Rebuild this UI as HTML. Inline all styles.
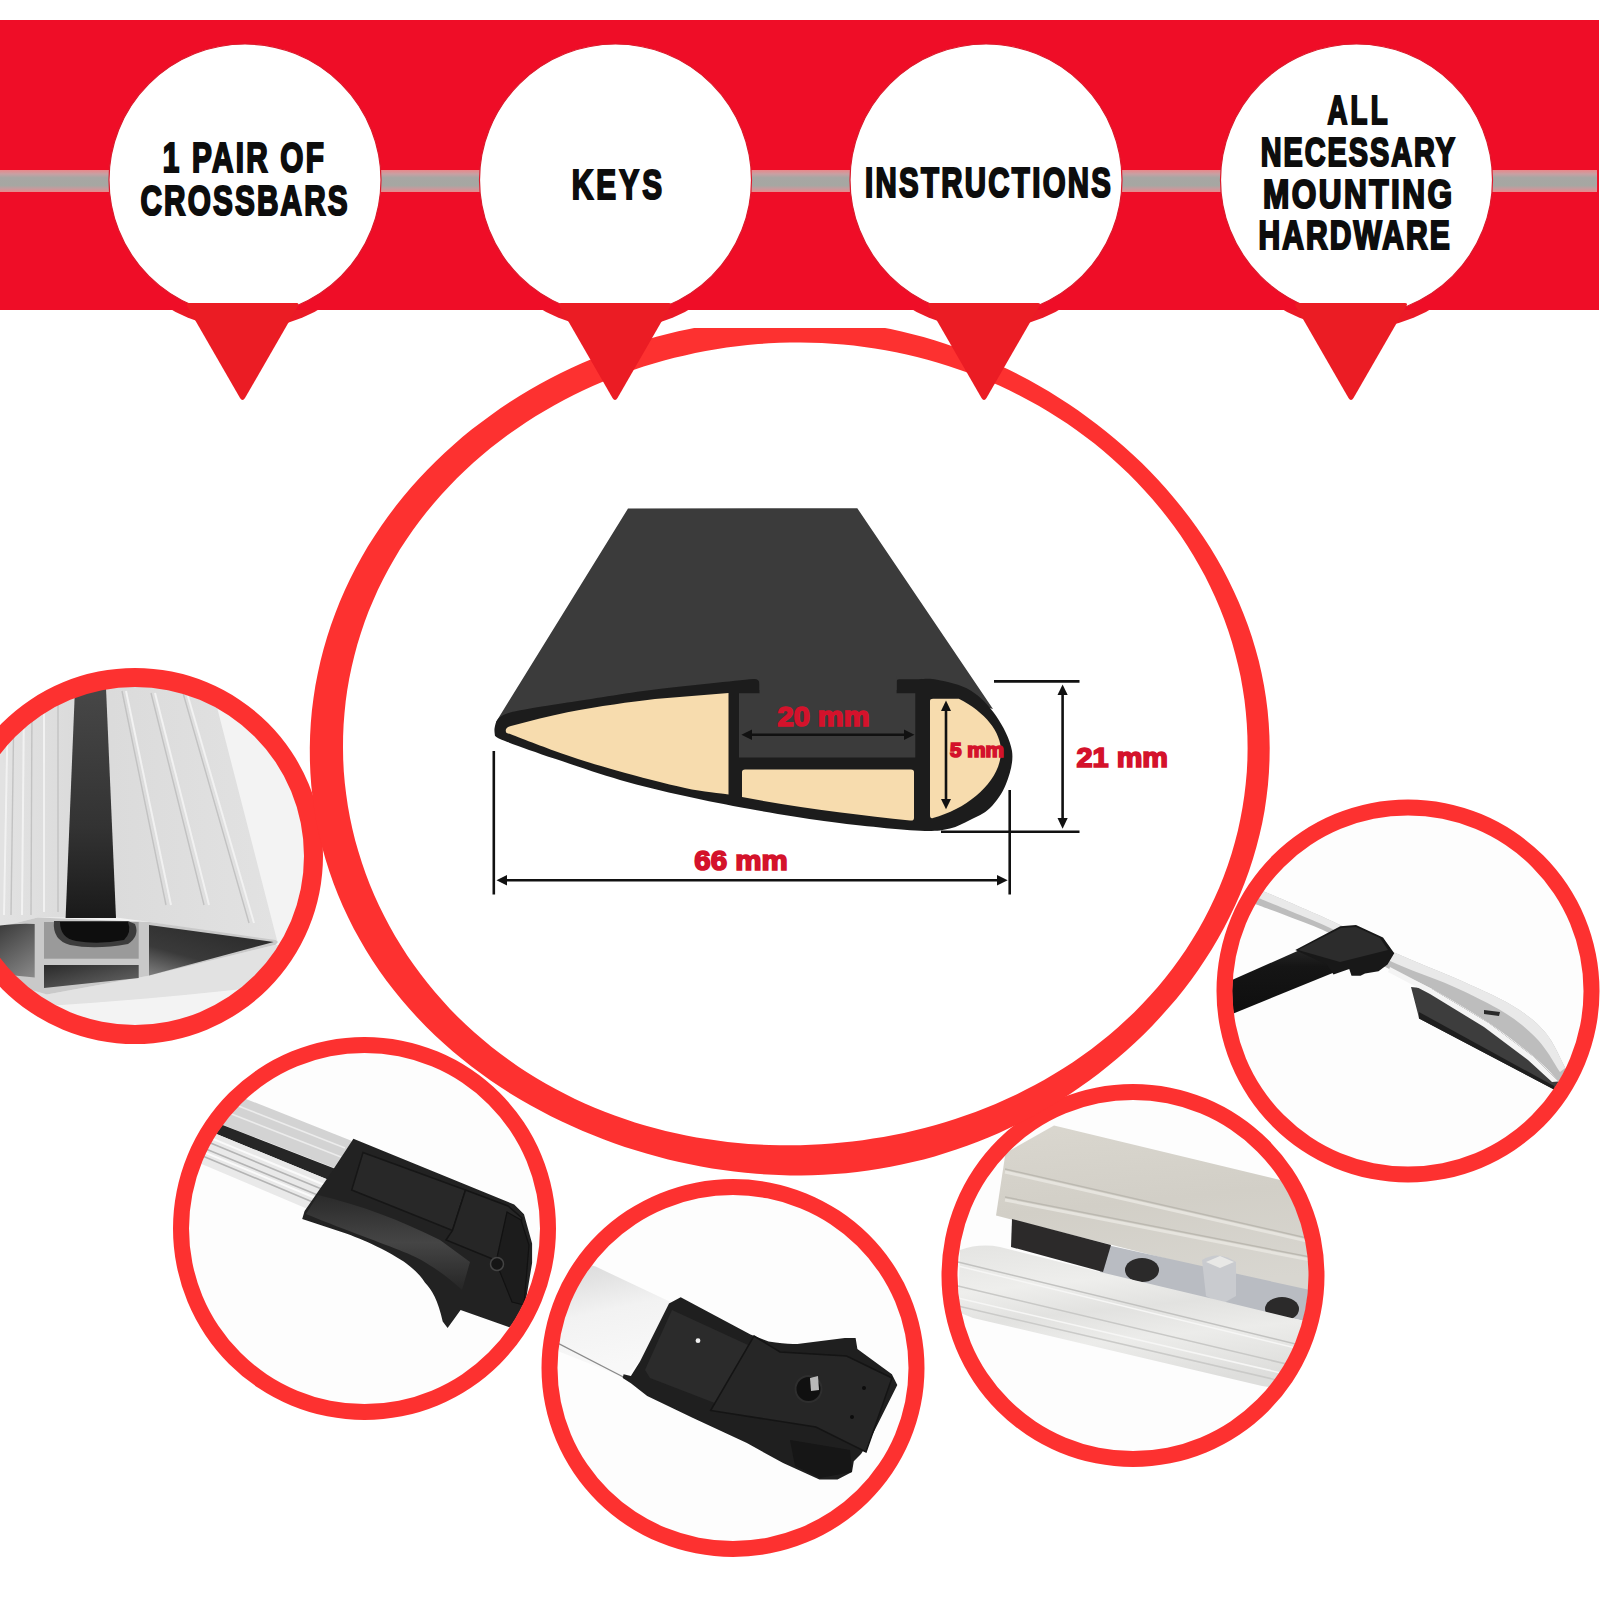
<!DOCTYPE html>
<html><head><meta charset="utf-8"><title>Crossbars</title>
<style>
html,body{margin:0;padding:0;background:#fff;}
body{width:1600px;height:1600px;overflow:hidden;position:relative;font-family:"Liberation Sans",sans-serif;}
svg{display:block;position:absolute;left:0;top:0;}
</style></head>
<body>
<svg width="1600" height="1600" viewBox="0 0 1600 1600">
<defs>
  <linearGradient id="stripe" x1="0" y1="0" x2="0" y2="1">
    <stop offset="0" stop-color="#e9878a"/>
    <stop offset="0.18" stop-color="#c9a0a3"/>
    <stop offset="0.35" stop-color="#a7a6a3"/>
    <stop offset="0.7" stop-color="#a6a7a2"/>
    <stop offset="0.85" stop-color="#c79a9d"/>
    <stop offset="1" stop-color="#e78a8b"/>
  </linearGradient>
  <clipPath id="bigclip"><rect x="0" y="328" width="1600" height="1272"/></clipPath>
</defs>
<rect x="0" y="0" width="1600" height="1600" fill="#fff"/>

<!-- PHOTOS (placeholder) -->
<g id="photos">
<defs>
  <clipPath id="c1"><circle cx="135" cy="856" r="170"/></clipPath>
  <clipPath id="c2"><circle cx="364.5" cy="1228.5" r="176"/></clipPath>
  <clipPath id="c3"><circle cx="733" cy="1368" r="176"/></clipPath>
  <clipPath id="c4"><circle cx="1133" cy="1275.5" r="176"/></clipPath>
  <clipPath id="c5"><circle cx="1408" cy="991" r="176"/></clipPath>
  <linearGradient id="p1bg" x1="0" y1="0" x2="1" y2="1">
    <stop offset="0" stop-color="#e9e9e9"/><stop offset="1" stop-color="#f4f4f4"/>
  </linearGradient>
  <linearGradient id="p1bar" x1="0" y1="0" x2="1" y2="0">
    <stop offset="0" stop-color="#e6e6e6"/><stop offset="0.4" stop-color="#dadada"/><stop offset="1" stop-color="#e2e2e2"/>
  </linearGradient>
  <linearGradient id="p1strip" x1="0" y1="0" x2="0" y2="1">
    <stop offset="0" stop-color="#474747"/><stop offset="0.6" stop-color="#333"/><stop offset="1" stop-color="#1a1a1a"/>
  </linearGradient>
  <linearGradient id="p1ch" x1="0" y1="0" x2="1" y2="1">
    <stop offset="0" stop-color="#1e1e1e"/><stop offset="1" stop-color="#8a8a8a"/>
  </linearGradient>
  <linearGradient id="p1ch2" x1="0" y1="0" x2="1" y2="1">
    <stop offset="0" stop-color="#2a2a2a"/><stop offset="1" stop-color="#6a6a6a"/>
  </linearGradient>
  <linearGradient id="p1ch3" x1="0.7" y1="0" x2="0" y2="1">
    <stop offset="0" stop-color="#2a2a2a"/><stop offset="0.6" stop-color="#3a3a3a"/><stop offset="1" stop-color="#808080"/>
  </linearGradient>
  <linearGradient id="p2bar" x1="0" y1="0" x2="0.35" y2="1">
    <stop offset="0" stop-color="#dcdcdc"/><stop offset="0.38" stop-color="#d0d0d0"/>
    <stop offset="0.4" stop-color="#333"/><stop offset="0.52" stop-color="#333"/>
    <stop offset="0.55" stop-color="#f2f2f2"/><stop offset="0.7" stop-color="#cfcfcf"/><stop offset="0.8" stop-color="#f5f5f5"/><stop offset="1" stop-color="#d8d8d8"/>
  </linearGradient>
  <linearGradient id="p2hl" x1="0" y1="0" x2="0" y2="1">
    <stop offset="0" stop-color="#2a2a2a"/><stop offset="0.5" stop-color="#454545"/><stop offset="1" stop-color="#262626"/>
  </linearGradient>
  <linearGradient id="p3bar" x1="0" y1="0" x2="0.25" y2="1">
    <stop offset="0" stop-color="#d2d2d2"/><stop offset="0.35" stop-color="#e2e2e2"/><stop offset="0.6" stop-color="#f2f2f2"/><stop offset="1" stop-color="#f8f8f8"/>
  </linearGradient>
  <linearGradient id="p4top" x1="0" y1="0" x2="0.2" y2="1">
    <stop offset="0" stop-color="#dad7cf"/><stop offset="0.5" stop-color="#d2cfc7"/><stop offset="1" stop-color="#d8d6d0"/>
  </linearGradient>
  <linearGradient id="p4lip" x1="0" y1="0" x2="0.25" y2="1">
    <stop offset="0" stop-color="#e4e4e2"/><stop offset="0.3" stop-color="#eeeeec"/><stop offset="0.5" stop-color="#e2e2e0"/><stop offset="0.7" stop-color="#ececea"/><stop offset="1" stop-color="#dededc"/>
  </linearGradient>
  <linearGradient id="p5rail" x1="0" y1="0" x2="0" y2="1">
    <stop offset="0" stop-color="#e4e4e4"/><stop offset="0.5" stop-color="#d0d0d0"/><stop offset="1" stop-color="#a8a8a8"/>
  </linearGradient>
  <linearGradient id="blk5" x1="0" y1="0" x2="0" y2="1">
    <stop offset="0" stop-color="#2a2a2a"/><stop offset="0.3" stop-color="#151515"/><stop offset="1" stop-color="#0e0e0e"/>
  </linearGradient>
  <linearGradient id="blk" x1="0" y1="0" x2="0" y2="1">
    <stop offset="0" stop-color="#3a3a3a"/><stop offset="1" stop-color="#161616"/>
  </linearGradient>
</defs>

<!-- photo 1 -->
<g clip-path="url(#c1)">
  <rect x="-40" y="680" width="360" height="360" fill="#f3f3f3"/>
  <path fill="url(#p1bar)" d="M-40,680 L210,680 L277.5,942 L150,922 L116,917.5 L65.6,917.5 L37.5,917.5 L0,927 L-40,935 Z"/>
  <g stroke="#f4f4f4" stroke-width="2" fill="none" opacity="0.9">
    <line x1="126" y1="691" x2="171" y2="905"/>
    <line x1="155" y1="693" x2="209" y2="905"/>
    <line x1="187" y1="693" x2="254" y2="923"/>
    <line x1="8" y1="700" x2="4" y2="915"/>
    <line x1="24" y1="700" x2="22" y2="915"/>
    <line x1="44" y1="700" x2="44" y2="912"/>
  </g>
  <g stroke="#c2c2c2" stroke-width="1.4" fill="none">
    <line x1="122" y1="691" x2="166" y2="905"/>
    <line x1="151" y1="693" x2="204" y2="905"/>
    <line x1="183" y1="693" x2="249" y2="923"/>
    <line x1="14" y1="700" x2="11" y2="915"/>
    <line x1="32" y1="700" x2="31" y2="915"/>
    <line x1="58" y1="700" x2="58" y2="912"/>
  </g>
  <path fill="url(#p1strip)" d="M75,688 L106,688 L116,918 L65.6,918 Z"/>
  <path fill="#e2e2e2" d="M-40,985 L0,981 L46.9,994.4 L150,975.6 L275.6,944.7 L320,950 L320,1040 L-40,1040 Z"/>
  <path fill="#f7f7f7" d="M-40,1010 Q120,1005 320,980 L320,1040 L-40,1040 Z" opacity="0.8"/>
  <path fill="#c9c9c9" d="M-40,932 L0,927 L37.5,917.5 L150,922 L275.6,940 L278,942 L275.6,944.7 L150,975.6 L46.9,994.4 L0,981 L-40,975 Z"/>
  <path fill="url(#p1ch)" d="M-40,932 Q10,922 34.7,924 L34.7,977.5 Q10,975 -40,970 Z"/>
  <rect x="44" y="922" width="94.7" height="36.7" fill="#9a9a9a"/>
  <path fill="#3c3c3c" d="M54,921 Q52,940 70,945 Q95,950 128,944 Q140,936 135,924 L128,921 Z"/>
  <path fill="#0e0e0e" d="M60,922 Q60,938 76,941 Q98,945 124,940 Q132,932 128,922 Z"/>
  <path fill="url(#p1ch2)" d="M44,965 L138.7,965 L138.7,978 L44,988 Z"/>
  <path fill="url(#p1ch3)" d="M149,925 L273.7,942 L149,975.6 Z"/>
</g>
<!-- photo 2 -->
<g clip-path="url(#c2)">
  <rect x="180" y="1050" width="370" height="360" fill="#fdfdfd"/>
  <path fill="#d3d3d3" d="M150,1060.8 L352,1141 L337,1169 L150,1096.6 Z"/>
  <g stroke="#ececec" stroke-width="1.6"><line x1="150" y1="1071" x2="345" y2="1148"/><line x1="150" y1="1082" x2="341" y2="1157"/></g>
  <path fill="#262626" d="M150,1096.6 L337,1169.5 L330,1180.5 L150,1106.7 Z"/>
  <path fill="#e9e9e9" d="M150,1106.7 L330,1180.5 L310,1210 L150,1142.2 Z"/>
  <g stroke="#b4b4b4" stroke-width="1.6"><line x1="150" y1="1118" x2="324" y2="1190"/><line x1="150" y1="1126" x2="320" y2="1196"/><line x1="150" y1="1134" x2="315" y2="1203"/></g>
  <g stroke="#fafafa" stroke-width="2"><line x1="150" y1="1113" x2="327" y2="1186"/><line x1="150" y1="1130" x2="318" y2="1199"/></g>
  <path fill="#222" d="M353.4,1138.7 L514.2,1204.5 L524,1214.2 L532.1,1243.5 L532.1,1263 L524,1311.7 L509.4,1327.2 L460.6,1310 L447.6,1328 L442.7,1321.5 C438,1300 432,1290 424.9,1282.5 C418,1272 410,1266 403.7,1261.4 C395,1256 388,1252 381,1248.4 C368,1242 358,1238 346.9,1233.7 L302.2,1219 L304.6,1211 L330.6,1173.6 Z"/>
  <path fill="url(#p2hl)" d="M318,1195 C360,1205 400,1220 440,1240 L470,1262 L462,1290 C440,1270 420,1258 403.7,1252 C380,1242 350,1232 306,1214 Z"/>
  <path fill="#282828" stroke="#161616" stroke-width="1.5" d="M363,1152.5 L465.5,1190 L452.5,1230.5 L351.7,1190 Z"/>
  <path fill="#262626" stroke="#141414" stroke-width="1.5" d="M465.5,1190 L508,1206 L522,1218 L514,1262 L495,1260 L446,1240 L452.5,1230.5 Z"/>
  <path fill="#1c1c1c" stroke="#111" stroke-width="1.2" d="M507,1212 L521,1220 L529,1245 L524,1305 L512,1302 L496,1262 Z"/>
  <circle cx="497" cy="1264" r="6.5" fill="#151515" stroke="#444" stroke-width="1.5"/>
</g>

<!-- photo 3 -->
<g clip-path="url(#c3)">
  <rect x="550" y="1190" width="370" height="360" fill="#fdfdfd"/>
  <path fill="url(#p3bar)" d="M520,1245 L595.7,1266.6 L672.2,1302.7 L669,1303.6 L640,1361.6 L623.3,1377 L520,1336 Z"/>
  <path fill="none" stroke="#8a8a8a" stroke-width="1.4" d="M540,1334 L623.3,1377"/>
  <path fill="#1f1f1f" d="M680.7,1297.2 L750.5,1334.4 L768.6,1341.6 Q790,1345 801.3,1343.4 L844.8,1338 L855.6,1338 L857.4,1348.9 L891.9,1374.3 L897.3,1385.1 L868.3,1443.1 L861,1454 L853.8,1461.3 L852,1472.1 L837.5,1479.4 L819.4,1479.4 L783.1,1463 L746.9,1443.1 L692.5,1417.8 L647.2,1396 L630.9,1383.3 L622.7,1377.9 L623.6,1374.3 L630.9,1376 L640,1361.6 L669,1303.6 Z"/>
  <path fill="#2b2b2b" d="M672,1310 L748,1345 L720,1405 L650,1378 L645,1370 Z"/>
  <path fill="#262626" stroke="#141414" stroke-width="1.5" d="M754,1336 L780,1352 L846.6,1356 L892,1378 L866,1452 L815.8,1427 L710.6,1410.5 Z"/>
  <path fill="#161616" d="M790,1440 L850,1450 L852,1472 L820,1478 L795,1466 Z"/>
  <circle cx="808.5" cy="1389" r="13" fill="#101010" stroke="#2e2e2e" stroke-width="2"/>
  <path fill="#b8b8b8" d="M810,1378 L818,1376 L819,1390 L811,1391 Z"/>
  <circle cx="698" cy="1340.7" r="2.4" fill="#f0f0f0"/>
  <circle cx="864" cy="1388" r="2" fill="#0c0c0c"/>
  <circle cx="852" cy="1417" r="2" fill="#0c0c0c"/>
</g>
<!-- photo 4 -->
<g clip-path="url(#c4)">
  <rect x="950" y="1095" width="370" height="360" fill="#fdfdfd"/>
  <path fill="url(#p4top)" d="M1054,1125.4 L1330,1192 L1330,1300 L996,1215.6 L1005.5,1153 Z"/>
  <g stroke="#e6e4de" stroke-width="3" fill="none">
    <line x1="1005" y1="1172" x2="1320" y2="1244"/>
    <line x1="1005" y1="1200" x2="1320" y2="1262"/>
  </g>
  <g stroke="#bcb9b1" stroke-width="1.5" fill="none">
    <line x1="1005" y1="1169" x2="1320" y2="1241"/>
    <line x1="1005" y1="1197" x2="1320" y2="1259"/>
  </g>
  <path fill="#b9bcc2" d="M1107,1245 L1310,1290 L1310,1322 L1098,1278 Z"/>
  <path fill="#2c2a2a" d="M1012,1219 L1111,1245 L1103,1272 L1011,1247 Z"/>
  <ellipse cx="1142" cy="1270" rx="17" ry="12" fill="#2b2a2a"/>
  <ellipse cx="1282" cy="1309" rx="17" ry="12" fill="#2b2a2a"/>
  <path fill="#c9cbcf" d="M1202,1260 Q1218,1250 1236,1262 L1236,1296 L1222,1304 L1206,1296 Z"/>
  <path fill="#e8e8e6" d="M1206,1262 L1220,1256 L1234,1262 L1220,1268 Z"/>
  <path fill="url(#p4lip)" d="M960,1250 Q980,1243 1000,1247 L1100,1272 L1205,1297 L1320,1325 L1320,1395 L1262,1386 L973,1318 L958,1312 Z"/>
  <g fill="none" stroke-width="1.5">
    <line x1="958" y1="1262" x2="1320" y2="1350" stroke="#c2c2c0"/>
    <line x1="958" y1="1266" x2="1320" y2="1354" stroke="#f6f6f5"/>
    <line x1="958" y1="1286" x2="1320" y2="1372" stroke="#c8c8c6"/>
    <line x1="958" y1="1298" x2="1320" y2="1382" stroke="#f6f6f5"/>
    <line x1="958" y1="1306" x2="1320" y2="1390" stroke="#cacac8"/>
  </g>
</g>

<!-- photo 5 -->
<g clip-path="url(#c5)">
  <rect x="1230" y="810" width="370" height="360" fill="#fdfdfd"/>
  <path fill="#3d3d3d" d="M1411,987 L1432.5,989.25 L1488.75,1023 L1533.75,1056.75 L1558.5,1081.5 L1560,1086 L1554,1089.4 L1419,1018.5 L1418,1014 Z"/>
  <path fill="#1e1e1e" d="M1419,1012 L1554,1086 L1554,1089.4 L1419,1018.5 Z"/>
  <path fill="#bdbdbd" d="M1258.0,889.0 C1265.0,892.0 1286.7,901.2 1300.0,907.0 C1313.3,912.8 1322.3,916.4 1338.0,924.0 C1353.7,931.6 1374.8,943.4 1394.3,952.4 C1413.8,961.4 1435.5,969.2 1455.0,978.0 C1474.5,986.8 1496.3,996.0 1511.3,1005.0 C1526.3,1014.0 1536.0,1021.5 1545.0,1032.0 C1554.0,1042.5 1559.8,1057.5 1565.3,1068.0 C1570.8,1078.5 1575.9,1090.5 1578.0,1095.0 L1570,1100 C1568.1,1096.9 1564.5,1088.7 1558.5,1081.5 C1552.5,1074.3 1545.4,1066.5 1533.8,1056.8 C1522.1,1047.0 1505.6,1034.2 1488.8,1023.0 C1471.9,1011.8 1449.8,998.6 1432.5,989.2 C1415.2,979.9 1401.5,975.8 1385.0,966.8 C1368.5,957.8 1348.5,943.2 1333.5,935.2 C1318.5,927.3 1308.1,924.2 1295.0,919.0 C1281.9,913.8 1261.7,906.5 1255.0,904.0 Z"/>
  <path fill="#e9e9e9" d="M1258.0,889.0 C1265.0,892.0 1286.7,901.2 1300.0,907.0 C1313.3,912.8 1322.3,916.4 1338.0,924.0 C1353.7,931.6 1374.8,943.4 1394.3,952.4 C1413.8,961.4 1435.5,969.2 1455.0,978.0 C1474.5,986.8 1496.3,996.0 1511.3,1005.0 C1526.3,1014.0 1536.0,1021.5 1545.0,1032.0 C1554.0,1042.5 1561.9,1062.0 1565.3,1068.0 L1560,1072 C1556.3,1066.7 1547.2,1049.8 1538.0,1040.0 C1528.8,1030.2 1519.3,1022.0 1505.0,1013.0 C1490.7,1004.0 1471.2,994.7 1452.0,986.0 C1432.8,977.3 1409.3,970.2 1390.0,961.0 C1370.7,951.8 1351.0,938.7 1336.0,931.0 C1321.0,923.3 1313.3,920.7 1300.0,915.0 C1286.7,909.3 1263.3,900.0 1256.0,897.0 Z"/>
  <path fill="#f4f4f4" d="M1390,967 L1432.5,989.25 L1488.75,1023 L1533.75,1056.75 L1558.5,1081.5 L1552,1082 L1528,1060 L1484,1027 L1430,994 L1388,972 Z"/>
  <path fill="#2a2a2a" d="M1484,1010 L1500,1012 L1499,1016 L1484,1014 Z"/>
  <path fill="url(#blk5)" d="M1225,983 L1297.5,951 L1340,945 L1345,968 L1232.25,1014 L1225,1016 Z"/>
  <path fill="#181818" d="M1295.25,949.9 L1340.25,926.25 L1356,925 L1383,937.5 L1394.25,953.25 L1387.5,964.5 L1378.5,971.25 L1365,973.5 L1360.5,975.75 L1351.5,975.75 L1349.25,969 L1333.5,974.6 L1326.75,964.5 Z"/>
  <path fill="#2c2c2c" d="M1298,950 L1341,928 L1356,927 L1380,938 L1388,950 L1340,962 Z"/>
</g>

</g>
<g id="rings" fill="#fd3130" fill-rule="evenodd">
<path d="M-53,856 a188,188 0 1,0 376,0 a188,188 0 1,0 -376,0 Z M-34,856 a169,169 0 1,0 338,0 a169,169 0 1,0 -338,0 Z"/>
<path d="M173,1228.5 a191.5,191.5 0 1,0 383,0 a191.5,191.5 0 1,0 -383,0 Z M189,1228.5 a175.5,175.5 0 1,0 351,0 a175.5,175.5 0 1,0 -351,0 Z"/>
<path d="M541.5,1368 a191.5,189 0 1,0 383,0 a191.5,189 0 1,0 -383,0 Z M557.5,1368 a175.5,173 0 1,0 351,0 a175.5,173 0 1,0 -351,0 Z"/>
<path d="M941.5,1275.5 a191.5,191.5 0 1,0 383,0 a191.5,191.5 0 1,0 -383,0 Z M957.5,1275.5 a175.5,175.5 0 1,0 351,0 a175.5,175.5 0 1,0 -351,0 Z"/>
<path d="M1216.5,991 a191.5,191.5 0 1,0 383,0 a191.5,191.5 0 1,0 -383,0 Z M1232.5,991 a175.5,175.5 0 1,0 351,0 a175.5,175.5 0 1,0 -351,0 Z"/>
</g>

<!-- big ellipse ring -->
<path clip-path="url(#bigclip)" fill="#fd3130" fill-rule="evenodd" d="M309.8,748.0 L310.1,735.4 L310.8,722.9 L311.9,710.4 L313.5,697.9 L315.4,685.5 L317.8,673.2 L320.5,661.0 L323.6,648.9 L327.1,636.9 L331.0,625.0 L335.3,613.3 L339.8,601.7 L344.8,590.3 L350.1,579.1 L355.7,568.1 L361.6,557.3 L367.8,546.6 L374.4,536.2 L381.2,526.0 L388.3,516.1 L395.6,506.3 L403.2,496.8 L411.0,487.5 L419.1,478.5 L427.4,469.7 L435.9,461.2 L444.5,452.9 L453.4,444.9 L462.4,437.1 L471.6,429.6 L481.0,422.4 L490.5,415.4 L500.1,408.6 L509.9,402.1 L519.8,395.8 L529.8,389.8 L539.9,384.1 L550.1,378.5 L560.4,373.3 L570.8,368.3 L581.2,363.5 L591.8,358.9 L602.4,354.6 L613.1,350.6 L623.8,346.8 L634.6,343.2 L645.5,339.9 L656.4,336.8 L667.3,333.9 L678.3,331.3 L689.4,328.9 L700.5,326.8 L711.6,324.9 L722.7,323.3 L733.9,321.9 L745.1,320.8 L756.3,319.9 L767.5,319.3 L778.8,318.9 L790.0,318.7 L801.2,318.9 L812.5,319.2 L823.7,319.9 L834.9,320.8 L846.1,321.9 L857.3,323.3 L868.4,325.0 L879.5,326.9 L890.6,329.1 L901.6,331.5 L912.6,334.2 L923.5,337.1 L934.4,340.3 L945.2,343.8 L955.9,347.4 L966.6,351.4 L977.2,355.6 L987.7,360.0 L998.1,364.7 L1008.5,369.6 L1018.8,374.7 L1028.9,380.1 L1039.0,385.7 L1049.0,391.6 L1058.8,397.7 L1068.6,404.0 L1078.2,410.6 L1087.7,417.4 L1097.1,424.4 L1106.3,431.7 L1115.4,439.2 L1124.4,446.9 L1133.2,454.9 L1141.8,463.1 L1150.2,471.6 L1158.5,480.3 L1166.6,489.2 L1174.4,498.4 L1182.0,507.8 L1189.5,517.4 L1196.6,527.2 L1203.5,537.3 L1210.2,547.6 L1216.5,558.1 L1222.6,568.8 L1228.3,579.8 L1233.7,590.9 L1238.8,602.2 L1243.5,613.7 L1247.9,625.3 L1251.9,637.1 L1255.5,649.0 L1258.8,661.1 L1261.6,673.3 L1264.0,685.6 L1266.0,698.0 L1267.6,710.4 L1268.7,722.9 L1269.4,735.4 L1269.7,748.0 L1269.5,760.6 L1268.9,773.1 L1267.9,785.6 L1266.4,798.1 L1264.6,810.5 L1262.3,822.8 L1259.5,835.0 L1256.4,847.1 L1252.9,859.1 L1249.0,871.0 L1244.7,882.7 L1240.1,894.2 L1235.1,905.6 L1229.7,916.8 L1224.1,927.8 L1218.1,938.6 L1211.8,949.2 L1205.2,959.6 L1198.4,969.7 L1191.3,979.7 L1183.9,989.4 L1176.3,998.9 L1168.4,1008.1 L1160.4,1017.1 L1152.1,1025.9 L1143.7,1034.4 L1135.0,1042.7 L1126.2,1050.7 L1117.2,1058.5 L1108.1,1066.1 L1098.8,1073.4 L1089.4,1080.5 L1079.8,1087.3 L1070.1,1093.9 L1060.2,1100.2 L1050.3,1106.3 L1040.2,1112.1 L1030.1,1117.7 L1019.8,1123.0 L1009.4,1128.1 L999.0,1132.9 L988.4,1137.4 L977.8,1141.7 L967.1,1145.8 L956.3,1149.6 L945.5,1153.1 L934.6,1156.4 L923.7,1159.4 L912.7,1162.1 L901.6,1164.6 L890.6,1166.8 L879.4,1168.8 L868.3,1170.5 L857.1,1172.0 L846.0,1173.2 L834.8,1174.1 L823.6,1174.8 L812.4,1175.2 L801.2,1175.4 L790.0,1175.4 L778.8,1175.1 L767.6,1174.6 L756.5,1173.8 L745.4,1172.8 L734.2,1171.6 L723.1,1170.1 L712.1,1168.4 L701.0,1166.5 L690.0,1164.3 L679.1,1162.0 L668.1,1159.4 L657.2,1156.6 L646.4,1153.6 L635.6,1150.3 L624.8,1146.9 L614.1,1143.2 L603.4,1139.2 L592.8,1135.1 L582.2,1130.7 L571.7,1126.1 L561.3,1121.3 L550.9,1116.2 L540.6,1110.8 L530.4,1105.3 L520.3,1099.5 L510.3,1093.4 L500.4,1087.1 L490.6,1080.5 L481.0,1073.6 L471.5,1066.5 L462.1,1059.1 L452.9,1051.5 L443.9,1043.6 L435.1,1035.4 L426.4,1027.0 L418.0,1018.3 L409.8,1009.3 L401.8,1000.1 L394.1,990.6 L386.7,980.9 L379.5,970.9 L372.6,960.7 L366.0,950.2 L359.8,939.6 L353.8,928.7 L348.2,917.6 L342.9,906.3 L338.0,894.8 L333.5,883.2 L329.4,871.4 L325.6,859.5 L322.2,847.4 L319.2,835.3 L316.6,823.0 L314.4,810.6 L312.7,798.2 L311.3,785.7 L310.4,773.1 L309.9,760.6 Z M343.0,748.0 L343.1,736.3 L343.6,724.6 L344.5,712.9 L345.7,701.3 L347.3,689.7 L349.3,678.2 L351.7,666.8 L354.4,655.4 L357.4,644.2 L360.9,633.0 L364.6,622.0 L368.7,611.1 L373.2,600.4 L377.9,589.8 L383.0,579.4 L388.4,569.2 L394.1,559.2 L400.0,549.3 L406.3,539.7 L412.8,530.2 L419.6,521.0 L426.6,512.0 L433.9,503.2 L441.3,494.7 L449.0,486.4 L456.9,478.3 L465.0,470.4 L473.3,462.8 L481.7,455.5 L490.3,448.3 L499.1,441.5 L508.0,434.8 L517.1,428.4 L526.2,422.3 L535.5,416.3 L544.9,410.7 L554.4,405.2 L564.0,400.0 L573.7,395.0 L583.5,390.3 L593.3,385.8 L603.3,381.5 L613.3,377.5 L623.3,373.6 L633.4,370.0 L643.6,366.6 L653.8,363.5 L664.1,360.6 L674.4,357.8 L684.8,355.4 L695.2,353.1 L705.6,351.0 L716.1,349.2 L726.6,347.6 L737.1,346.2 L747.6,345.0 L758.2,344.1 L768.8,343.3 L779.4,342.8 L790.0,342.5 L800.6,342.5 L811.2,342.7 L821.9,343.1 L832.5,343.7 L843.1,344.5 L853.7,345.6 L864.3,346.9 L874.9,348.5 L885.5,350.3 L896.0,352.3 L906.5,354.5 L917.0,357.0 L927.5,359.8 L937.9,362.7 L948.3,365.9 L958.6,369.4 L968.8,373.1 L979.0,377.0 L989.1,381.2 L999.2,385.6 L1009.2,390.3 L1019.1,395.2 L1028.9,400.4 L1038.6,405.8 L1048.2,411.5 L1057.7,417.4 L1067.1,423.6 L1076.3,430.0 L1085.4,436.7 L1094.4,443.6 L1103.2,450.8 L1111.8,458.2 L1120.3,465.9 L1128.6,473.8 L1136.7,482.0 L1144.6,490.4 L1152.3,499.0 L1159.8,507.9 L1167.0,517.0 L1174.0,526.3 L1180.8,535.8 L1187.2,545.6 L1193.4,555.6 L1199.3,565.7 L1205.0,576.1 L1210.3,586.7 L1215.3,597.4 L1219.9,608.3 L1224.3,619.4 L1228.2,630.6 L1231.9,641.9 L1235.1,653.4 L1238.0,665.0 L1240.6,676.6 L1242.7,688.4 L1244.5,700.2 L1245.8,712.1 L1246.8,724.1 L1247.4,736.0 L1247.6,748.0 L1247.4,760.0 L1246.8,771.9 L1245.7,783.9 L1244.3,795.8 L1242.5,807.6 L1240.3,819.3 L1237.8,831.0 L1234.8,842.5 L1231.5,854.0 L1227.8,865.3 L1223.7,876.5 L1219.3,887.5 L1214.5,898.3 L1209.4,909.0 L1204.0,919.5 L1198.3,929.8 L1192.2,939.8 L1185.9,949.7 L1179.3,959.3 L1172.4,968.8 L1165.2,977.9 L1157.8,986.9 L1150.2,995.6 L1142.3,1004.0 L1134.3,1012.2 L1126.0,1020.1 L1117.6,1027.8 L1108.9,1035.2 L1100.1,1042.3 L1091.2,1049.2 L1082.1,1055.8 L1072.9,1062.2 L1063.5,1068.3 L1054.1,1074.1 L1044.5,1079.7 L1034.9,1085.0 L1025.1,1090.1 L1015.3,1095.0 L1005.4,1099.6 L995.5,1103.9 L985.5,1108.0 L975.4,1111.9 L965.3,1115.6 L955.2,1119.0 L945.0,1122.2 L934.8,1125.2 L924.5,1128.0 L914.3,1130.5 L904.0,1132.9 L893.7,1135.0 L883.4,1136.9 L873.0,1138.6 L862.7,1140.2 L852.3,1141.5 L842.0,1142.6 L831.6,1143.6 L821.2,1144.3 L810.8,1144.8 L800.4,1145.2 L790.0,1145.3 L779.6,1145.2 L769.2,1145.0 L758.8,1144.5 L748.4,1143.9 L738.0,1143.0 L727.6,1141.9 L717.2,1140.6 L706.9,1139.1 L696.5,1137.4 L686.2,1135.5 L675.9,1133.3 L665.6,1130.9 L655.3,1128.3 L645.1,1125.5 L634.9,1122.4 L624.8,1119.1 L614.7,1115.6 L604.7,1111.8 L594.7,1107.7 L584.8,1103.4 L575.0,1098.9 L565.2,1094.1 L555.6,1089.1 L546.0,1083.8 L536.6,1078.3 L527.3,1072.5 L518.1,1066.4 L509.0,1060.1 L500.1,1053.5 L491.3,1046.7 L482.7,1039.6 L474.2,1032.3 L466.0,1024.7 L457.9,1016.9 L450.0,1008.9 L442.4,1000.6 L434.9,992.1 L427.7,983.3 L420.7,974.3 L413.9,965.1 L407.4,955.7 L401.2,946.1 L395.2,936.3 L389.6,926.3 L384.2,916.1 L379.1,905.7 L374.3,895.2 L369.8,884.5 L365.7,873.7 L361.9,862.7 L358.4,851.6 L355.2,840.4 L352.4,829.1 L350.0,817.7 L347.9,806.2 L346.2,794.6 L344.8,783.0 L343.8,771.4 L343.2,759.7 Z"/>

<!-- profile diagram -->
<g id="diagram">
  <path fill="#3b3b3b" d="M628,508.4 L857.3,508.2 L993,709 L960,700 L760,690 L497,726 L496,722 Z"/>
  <path fill="#1c1c1c" d="M495.0,736.0 C494.9,734.7 494.1,730.8 494.6,728.0 C495.1,725.2 495.9,721.4 498.0,719.0 C500.1,716.6 502.5,715.1 507.0,713.5 C511.5,711.9 514.9,711.3 525.0,709.5 C535.1,707.7 545.8,705.9 567.5,702.6 C589.2,699.3 624.1,693.4 655.0,689.5 C685.9,685.6 736.7,680.8 753.0,679.0 Q759.5,678.5 759.5,684 L759.5,690 L896.6,690 L896.6,681 Q896.6,679.2 899,679.2 C902.2,679.2 911.7,679.1 918.0,679.2 C924.3,679.3 928.2,677.9 937.0,679.8 C945.8,681.7 960.8,684.4 970.6,690.4 C980.4,696.4 989.1,705.6 996.0,715.7 C1002.9,725.8 1010.3,739.6 1012.0,751.0 C1013.7,762.4 1009.7,774.5 1006.0,784.0 C1002.3,793.5 996.0,802.0 990.0,808.0 C984.0,814.0 976.7,816.6 970.0,820.0 C963.3,823.4 957.5,826.7 950.0,828.5 C942.5,830.3 936.7,831.2 925.0,831.0 C913.3,830.8 896.9,829.2 880.0,827.5 C863.1,825.8 845.5,824.1 823.8,821.0 C802.1,817.9 773.1,813.2 750.0,809.0 C726.9,804.8 706.7,800.9 685.0,796.0 C663.3,791.1 641.7,786.1 620.0,779.9 C598.3,773.7 574.2,765.2 555.0,758.8 C535.8,752.3 515.0,744.8 505.0,741.0 C495.0,737.2 496.7,736.8 495.0,736.0 Z"/>
  <path fill="#3b3b3b" d="M759.5,676 L896.6,676 L896.6,693.3 L915.3,693.3 L915.3,757.5 L739,757.5 L739,693.3 L759.5,693.3 Z"/>
  <path fill="#f7dcae" d="M506.3,732.7 Q504,728 511,726 C530,721 550,716 567.5,712.3 C600,706 630,702 655,699 L728.5,693 L728.5,794.5 C721.2,793.4 703.5,792.0 685.0,788.0 C666.5,784.0 637.8,776.5 617.3,770.8 C596.8,765.0 580.3,759.9 561.8,753.5 C543.3,747.1 515.5,736.2 506.3,732.7 Z"/>
  <path fill="#f7dcae" d="M742,772 Q742,769.5 745,769.5 L911,769.5 Q914,769.5 914,772 L914,818 Q914,821 910,820.5 C860,815 800,808 742,797 Z"/>
  <path fill="#f7dcae" d="M930,701 Q930,698.8 933,698.8 L958.8,698.8 C985,712 1001,732 1001,751 C1001,780 970,808 933,818 Q930,819 930,815 Z"/>
  <g stroke="#111" stroke-width="2.6" fill="none">
    <line x1="750" y1="734.7" x2="906" y2="734.7"/>
    <line x1="946" y1="709" x2="946" y2="801"/>
    <line x1="1062.6" y1="692" x2="1062.6" y2="821"/>
    <line x1="994" y1="681.4" x2="1079.5" y2="681.4"/>
    <line x1="941" y1="831.8" x2="1079.5" y2="831.8"/>
    <line x1="505" y1="880.2" x2="999" y2="880.2"/>
    <line x1="493.8" y1="751" x2="493.8" y2="894.5"/>
    <line x1="1009.7" y1="790" x2="1009.7" y2="894.5"/>
  </g>
  <g fill="#111">
    <path d="M741.4,734.7 L752,729.5 L752,739.9 Z"/>
    <path d="M914.5,734.7 L904,729.5 L904,739.9 Z"/>
    <path d="M946,700.5 L941,711 L951,711 Z"/>
    <path d="M946,809.3 L941,799 L951,799 Z"/>
    <path d="M1062.6,684.5 L1057.5,695 L1067.7,695 Z"/>
    <path d="M1062.6,828.7 L1057.5,818 L1067.7,818 Z"/>
    <path d="M496.5,880.2 L507,875 L507,885.4 Z"/>
    <path d="M1007.7,880.2 L997,875 L997,885.4 Z"/>
  </g>
  <g font-family="Liberation Sans" font-weight="bold" fill="#d4122b" stroke="#d4122b" stroke-width="1.7">
    <text x="777.5" y="726.4" font-size="28.5" textLength="92" lengthAdjust="spacingAndGlyphs">20 mm</text>
    <text x="1076.5" y="766.8" font-size="28.5" textLength="91.5" lengthAdjust="spacingAndGlyphs">21 mm</text>
    <text x="694.3" y="870.1" font-size="28.5" textLength="93.5" lengthAdjust="spacingAndGlyphs">66 mm</text>
    <text x="950" y="756.8" font-size="20" textLength="54" lengthAdjust="spacingAndGlyphs">5 mm</text>
  </g>
</g>

<!-- header band -->
<circle cx="245" cy="180" r="149" fill="#eb1a26"/>
<circle cx="615.5" cy="180" r="149" fill="#eb1a26"/>
<circle cx="986" cy="180" r="149" fill="#eb1a26"/>
<circle cx="1356.5" cy="180" r="149" fill="#eb1a26"/>

<rect x="0" y="20" width="1599" height="290" fill="#ef0d27"/>
<rect x="0" y="170" width="1597" height="22" fill="url(#stripe)"/>

<g id="pins">
  <g>
    <circle cx="245" cy="180" r="136" fill="#fff" stroke="#dc1a2c" stroke-width="1.2"/>
    <path d="M188.5,303 L296.5,303 Q299.5,303 298.0,306 L245.0,398 Q242.5,402 240.0,398 L187.0,306 Q185.5,303 188.5,303 Z" fill="#eb1c24"/>
  </g>
  <g>
    <circle cx="615.5" cy="180" r="136" fill="#fff" stroke="#dc1a2c" stroke-width="1.2"/>
    <path d="M561,303 L669,303 Q672,303 670.5,306 L617.5,398 Q615,402 612.5,398 L559.5,306 Q558,303 561,303 Z" fill="#eb1c24"/>
  </g>
  <g>
    <circle cx="986" cy="180" r="136" fill="#fff" stroke="#dc1a2c" stroke-width="1.2"/>
    <path d="M930,303 L1038,303 Q1041,303 1039.5,306 L986.5,398 Q984,402 981.5,398 L928.5,306 Q927,303 930,303 Z" fill="#eb1c24"/>
  </g>
  <g>
    <circle cx="1356.5" cy="180" r="136" fill="#fff" stroke="#dc1a2c" stroke-width="1.2"/>
    <path d="M1297,303 L1405,303 Q1408,303 1406.5,306 L1353.5,398 Q1351,402 1348.5,398 L1295.5,306 Q1294,303 1297,303 Z" fill="#eb1c24"/>
  </g>
</g>

<g font-family="Liberation Sans" font-weight="bold" fill="#0d0d0d" stroke="#0d0d0d" stroke-width="2.2">
  <text transform="translate(162.8,172.4) scale(0.7,1)" x="0" y="0" font-size="42.5" textLength="230.1" lengthAdjust="spacing">1 PAIR OF</text>
  <text transform="translate(140.5,214.5) scale(0.7,1)" x="0" y="0" font-size="42.5" textLength="295.9" lengthAdjust="spacing">CROSSBARS</text>
  <text transform="translate(571.8,198.7) scale(0.7,1)" x="0" y="0" font-size="42.5" textLength="128.9" lengthAdjust="spacing">KEYS</text>
  <text transform="translate(865.0,197.4) scale(0.7,1)" x="0" y="0" font-size="42" textLength="351.4" lengthAdjust="spacing">INSTRUCTIONS</text>
  <text transform="translate(1327.5,123.5) scale(0.69,1)" x="0" y="0" font-size="40" textLength="87.0" lengthAdjust="spacing">ALL</text>
  <text transform="translate(1260.7,166.2) scale(0.72,1)" x="0" y="0" font-size="40" textLength="269.9" lengthAdjust="spacing">NECESSARY</text>
  <text transform="translate(1263.0,208) scale(0.79,1)" x="0" y="0" font-size="40" textLength="239.2" lengthAdjust="spacing">MOUNTING</text>
  <text transform="translate(1258.5,248.7) scale(0.75,1)" x="0" y="0" font-size="40" textLength="254.9" lengthAdjust="spacing">HARDWARE</text>
</g>

</svg>
</body></html>
